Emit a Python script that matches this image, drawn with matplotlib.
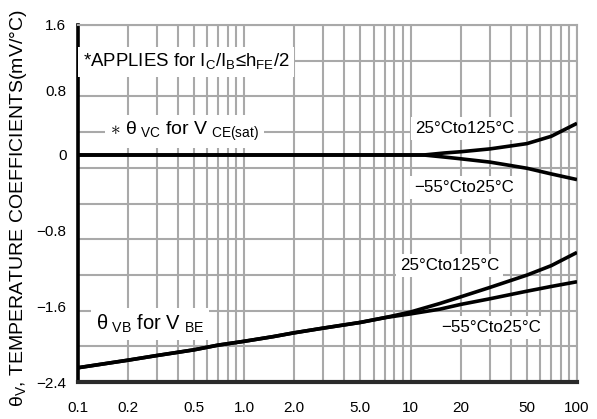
import numpy as np
import matplotlib
matplotlib.use("Agg")
import matplotlib.pyplot as plt
from matplotlib import font_manager as fm
from matplotlib.ticker import FixedLocator, FixedFormatter, MultipleLocator, LogLocator, NullFormatter

# ---------------- data ----------------
x_vc = [0.1, 1.0, 12, 16, 20, 30, 50, 70, 100]
vc_hot = [0.0, 0.0, 0.0, 0.025, 0.04, 0.075, 0.14, 0.23, 0.39]      # 25°C to 125°C
vc_cold = [0.0, 0.0, 0.0, -0.022, -0.04, -0.075, -0.14, -0.20, -0.26]  # -55°C to 25°C

x_vb = [0.1, 0.2, 0.3, 0.5, 0.7, 1.0, 1.5, 2.0, 3.0, 5.0, 7.0, 10, 15, 20, 30, 50, 70, 100]
vb_hot = [-2.25, -2.17, -2.12, -2.06, -2.01, -1.97, -1.92, -1.88, -1.83, -1.77, -1.72,
          -1.66, -1.57, -1.50, -1.40, -1.27, -1.17, -1.03]
vb_cold = [-2.25, -2.17, -2.12, -2.06, -2.01, -1.97, -1.92, -1.88, -1.83, -1.77, -1.72,
           -1.68, -1.63, -1.58, -1.52, -1.44, -1.39, -1.34]

xtick_vals = [0.1, 0.2, 0.5, 1.0, 2.0, 5.0, 10, 20, 50, 100]
xtick_labels = ["0.1", "0.2", "0.5", "1.0", "2.0", "5.0", "10", "20", "50", "100"]
ytick_vals = [-2.4, -1.6, -0.8, 0.0, 0.8, 1.6]
ytick_labels = ["\u22122.4", "\u22121.6", "\u22120.8", "0", "0.8", "1.6"]

# ---------------- fonts ----------------
def has_font(name):
    try:
        fm.findfont(fm.FontProperties(family=name), fallback_to_default=False)
        return True
    except Exception:
        return False

HAS_NARROW = has_font("Liberation Sans Narrow")
NARROW = "Liberation Sans Narrow" if HAS_NARROW else "Liberation Sans"
nk = 1.0 if HAS_NARROW else 0.84

plt.rcParams["font.family"] = ["Liberation Sans", "DejaVu Sans"]
plt.rcParams["mathtext.fontset"] = "custom"
plt.rcParams["mathtext.rm"] = "Liberation Sans"
plt.rcParams["mathtext.sf"] = NARROW
plt.rcParams["axes.unicode_minus"] = True

# ---------------- figure ----------------
W, H = 597, 419
fig = plt.figure(figsize=(W / 100, H / 100), dpi=100)
L, R, T, B = 77.5, 577, 25, 382
ax = fig.add_axes([L / W, 1 - B / H, (R - L) / W, (B - T) / H])

# piecewise linear y scale (zero line sits higher than a uniform scale)
up = (155 - T) / 1.6
dn = (B - 155) / 2.4
def fwd(v):
    v = np.asarray(v, dtype=float)
    return np.where(v >= 0, v * up, v * dn)
def inv(u):
    u = np.asarray(u, dtype=float)
    return np.where(u >= 0, u / up, u / dn)

ax.set_xscale("log")
ax.set_yscale("function", functions=(fwd, inv))
ax.set_xlim(0.1, 100)
ax.set_ylim(-2.4, 1.6)

# uniform horizontal grid on a twin axis
ax2 = ax.twinx()
ax2.set_ylim(-2.4, 1.6)
ax2.yaxis.set_major_locator(MultipleLocator(0.4))
ax2.tick_params(axis="y", right=False, labelright=False, length=0)
ax2.grid(True, axis="y", color="#a9a9a9", lw=1.5)
for s in ax2.spines.values():
    s.set_visible(False)
ax.set_zorder(ax2.get_zorder() + 1)
ax.patch.set_visible(False)

# x ticks / vertical grid
ax.xaxis.set_major_locator(FixedLocator(xtick_vals))
ax.xaxis.set_major_formatter(FixedFormatter(xtick_labels))
ax.xaxis.set_minor_locator(LogLocator(base=10, subs=np.arange(1, 10)))
ax.xaxis.set_minor_formatter(NullFormatter())
ax.grid(True, axis="x", which="both", color="#a9a9a9", lw=1.5)
ax.tick_params(axis="x", which="both", length=0, pad=14, labelsize=11)

ax.yaxis.set_major_locator(FixedLocator(ytick_vals))
ax.yaxis.set_major_formatter(FixedFormatter(ytick_labels))
ax.yaxis.set_minor_locator(FixedLocator([]))
ax.tick_params(axis="y", length=0, pad=8, labelsize=11)

for side in ("top", "right"):
    ax.spines[side].set_color("#a9a9a9")
    ax.spines[side].set_linewidth(1.5)
ax.spines["left"].set_color("black")
ax.spines["left"].set_linewidth(2.6)
ax.spines["bottom"].set_color("#2a2a2a")
ax.spines["bottom"].set_linewidth(3.0)

# curves
lw = 2.6
ax.plot(x_vc, vc_hot, color="black", lw=lw, zorder=5, solid_capstyle="butt")
ax.plot(x_vc, vc_cold, color="black", lw=lw, zorder=5, solid_capstyle="butt")
ax.plot(x_vb, vb_hot, color="black", lw=lw, zorder=5, solid_capstyle="butt")
ax.plot(x_vb, vb_cold, color="black", lw=lw, zorder=5, solid_capstyle="butt")

def fx(px):
    return (px - L) / (R - L)
def fy(py):
    return (B - py) / (B - T)

box = dict(boxstyle="square,pad=0.25", fc="white", ec="none")

ax.text(fx(83), fy(67), "*APPLIES for I$_\\mathsf{C}$/I$_\\mathsf{B}$\u2264h$_\\mathsf{FE}$/2",
        transform=ax.transAxes, ha="left", va="baseline", fontsize=16 * nk,
        family=[NARROW, "DejaVu Sans"], bbox=box, zorder=3)

ax.text(fx(110), fy(135), "$\\ast$ \u03b8$_{\\ \\mathrm{VC}}$ for V$_{\\ \\mathrm{CE(sat)}}$",
        transform=ax.transAxes, ha="left", va="baseline", fontsize=14,
        bbox=box, zorder=3)

ax.text(fx(96), fy(330), "\u03b8$_{\\ \\mathrm{VB}}$ for V$_{\\ \\mathrm{BE}}$",
        transform=ax.transAxes, ha="left", va="baseline", fontsize=14.5,
        bbox=box, zorder=3)

lab_kw = dict(transform=ax.transAxes, ha="left", va="baseline", fontsize=14.5 * nk,
              family=[NARROW, "DejaVu Sans"], bbox=box, zorder=3)
ax.text(fx(415), fy(133), "25\u00b0Cto125\u00b0C", **lab_kw)
ax.text(fx(414), fy(192), "\u221255\u00b0Cto25\u00b0C", **lab_kw)
ax.text(fx(400), fy(270), "25\u00b0Cto125\u00b0C", **lab_kw)
ax.text(fx(441), fy(332), "\u221255\u00b0Cto25\u00b0C", **lab_kw)

fig.text(19 / W, 1 - 208 / H, "\u03b8$_\\mathrm{V}$, TEMPERATURE COEFFICIENTS(mV/\u00b0C)",
         rotation=90, ha="center", va="center", fontsize=14)

fig.savefig("out.png", dpi=100, facecolor="white")
